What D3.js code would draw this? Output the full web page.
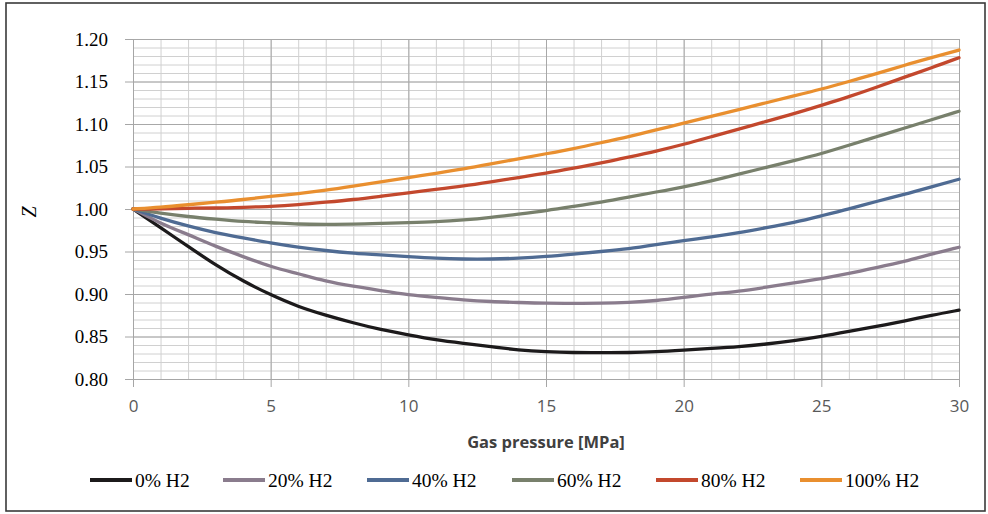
<!DOCTYPE html>
<html>
<head>
<meta charset="utf-8">
<script src="https://cdn.jsdelivr.net/npm/d3@7"></script>
</head>
<body style="margin:0;background:#fff">
<div id="chart"></div>
<script>
// data
var pressure = [0,1,2,3,4,5,6,7,8,9,10,11,12,13,14,15,16,17,18,19,20,21,22,23,24,25,26,27,28,29,30];

var h2_0   = [1.000,0.978,0.956,0.934,0.915,0.899,0.885,0.875,0.866,0.858,0.852,0.846,0.842,0.838,0.834,0.832,0.831,0.831,0.831,0.832,0.834,0.836,0.838,0.841,0.845,0.850,0.856,0.862,0.868,0.875,0.881];
var h2_20  = [1.000,0.983,0.970,0.956,0.944,0.932,0.924,0.915,0.909,0.904,0.899,0.896,0.893,0.891,0.890,0.889,0.889,0.889,0.890,0.892,0.896,0.900,0.903,0.908,0.913,0.918,0.924,0.931,0.938,0.947,0.955];
var h2_40  = [1.000,0.989,0.980,0.972,0.966,0.960,0.955,0.951,0.948,0.946,0.944,0.942,0.941,0.941,0.942,0.944,0.947,0.950,0.953,0.958,0.963,0.967,0.972,0.978,0.984,0.992,1.000,1.009,1.017,1.026,1.035];
var h2_60  = [1.000,0.995,0.991,0.988,0.985,0.984,0.982,0.982,0.982,0.983,0.984,0.985,0.987,0.990,0.994,0.998,1.003,1.008,1.014,1.020,1.026,1.033,1.041,1.049,1.057,1.065,1.075,1.085,1.095,1.105,1.115];
var h2_80  = [1.000,1.000,1.001,1.001,1.002,1.003,1.005,1.008,1.011,1.015,1.019,1.023,1.027,1.032,1.037,1.042,1.048,1.054,1.061,1.068,1.076,1.085,1.094,1.103,1.112,1.122,1.132,1.143,1.155,1.166,1.178];
var h2_100 = [1.000,1.002,1.005,1.008,1.011,1.015,1.018,1.022,1.027,1.032,1.037,1.042,1.047,1.053,1.059,1.065,1.071,1.078,1.085,1.093,1.101,1.109,1.117,1.125,1.133,1.141,1.150,1.159,1.169,1.178,1.187];

var seriesNames = ["0% H2", "20% H2", "40% H2", "60% H2", "80% H2", "100% H2"];
var seriesValues = [h2_0, h2_20, h2_40, h2_60, h2_80, h2_100];
var colors = ["#1c1a1b", "#8a7c8d", "#4f6b93", "#78806c", "#c3482d", "#e98f2f"];

var xTicks = [0, 5, 10, 15, 20, 25, 30];
var yTicks = [0.80, 0.85, 0.90, 0.95, 1.00, 1.05, 1.10, 1.15, 1.20];

var serif = "Liberation Serif";
var sans = "Open Sans";

var W = 988, H = 514;
var margin = {top: 39, right: 29, bottom: 135, left: 133},
    width = W - margin.left - margin.right,
    height = H - margin.top - margin.bottom;

var svg = d3.select("#chart")
  .append("svg")
    .attr("width", W)
    .attr("height", H);

// outer frame
svg.append("rect")
  .attr("x", 6).attr("y", 3)
  .attr("width", 979).attr("height", 508)
  .attr("fill", "none")
  .attr("stroke", "#3a3a3a")
  .attr("stroke-width", 1.6);

var g = svg.append("g")
  .attr("transform", "translate(" + margin.left + "," + margin.top + ")");

var x = d3.scaleLinear().domain([0, 30]).range([0, width]);
var y = d3.scaleLinear().domain([0.80, 1.20]).range([height, 0]);

function noDomain(s) { s.select(".domain").remove(); }

// minor grid
g.append("g")
  .attr("transform", "translate(0," + height + ")")
  .call(d3.axisBottom(x).ticks(30).tickSize(-height).tickFormat(""))
  .call(noDomain)
  .selectAll("line").attr("stroke", "#d0d0d0");

g.append("g")
  .call(d3.axisLeft(y).ticks(40).tickSize(-width).tickFormat(""))
  .call(noDomain)
  .selectAll("line").attr("stroke", "#d0d0d0");

// major grid
g.append("g")
  .attr("transform", "translate(0," + height + ")")
  .call(d3.axisBottom(x).tickValues(xTicks).tickSize(-height).tickFormat(""))
  .call(noDomain)
  .selectAll("line").attr("stroke", "#a8a8a8");

g.append("g")
  .call(d3.axisLeft(y).tickValues(yTicks).tickSize(-width).tickFormat(""))
  .call(noDomain)
  .selectAll("line").attr("stroke", "#a8a8a8");

// Y axis
var yAxis = g.append("g")
  .call(d3.axisLeft(y).tickValues(yTicks).tickSize(8).tickPadding(17).tickFormat(d3.format(".2f")))
  .attr("font-family", serif)
  .attr("font-size", 19);
yAxis.select(".domain").attr("stroke", "#a6a6a6");
yAxis.selectAll("line").attr("stroke", "#a6a6a6");
yAxis.selectAll("text")
  .attr("fill", "#000")
  .attr("dy", "0.34em");

// X axis
var xAxis = g.append("g")
  .attr("transform", "translate(0," + height + ")")
  .call(d3.axisBottom(x).tickValues(xTicks).tickSize(8).tickPadding(13))
  .attr("font-family", sans)
  .attr("font-size", 17);
xAxis.select(".domain").attr("stroke", "#a6a6a6");
xAxis.selectAll("line").attr("stroke", "#a6a6a6");
xAxis.selectAll("text")
  .attr("fill", "#595959")
  .attr("dy", "0.71em");

// axis titles
svg.append("text")
  .attr("x", margin.left + width / 2)
  .attr("y", 448)
  .attr("text-anchor", "middle")
  .attr("font-family", sans)
  .attr("font-size", 16.5)
  .attr("font-weight", "bold")
  .attr("fill", "#404040")
  .text("Gas pressure [MPa]");

svg.append("text")
  .attr("transform", "translate(36,212) rotate(-90)")
  .attr("text-anchor", "middle")
  .attr("font-family", serif)
  .attr("font-size", 20)
  .attr("font-style", "italic")
  .attr("fill", "#000")
  .text("Z");

// lines
var line = d3.line()
  .x(function(d, i) { return x(pressure[i]); })
  .y(function(d) { return y(d); })
  .curve(d3.curveBasis);

g.selectAll(".series")
  .data(seriesValues)
  .enter()
  .append("path")
    .attr("class", "series")
    .attr("fill", "none")
    .attr("stroke", function(d, i) { return colors[i]; })
    .attr("stroke-width", 3.3)
    .attr("stroke-linecap", "round")
    .attr("d", line);

// legend
var legX = [90, 223, 367, 512, 656, 800];
var leg = svg.selectAll(".legitem")
  .data(seriesNames)
  .enter()
  .append("g")
    .attr("class", "legitem")
    .attr("transform", function(d, i) { return "translate(" + legX[i] + ",480)"; });

leg.append("line")
  .attr("x1", 0).attr("x2", 42)
  .attr("y1", 0).attr("y2", 0)
  .attr("stroke", function(d, i) { return colors[i]; })
  .attr("stroke-width", 4);

leg.append("text")
  .attr("x", 45)
  .attr("y", 7)
  .attr("font-family", serif)
  .attr("font-size", 19.5)
  .attr("fill", "#000")
  .text(function(d) { return d; });
</script>
</body>
</html>
